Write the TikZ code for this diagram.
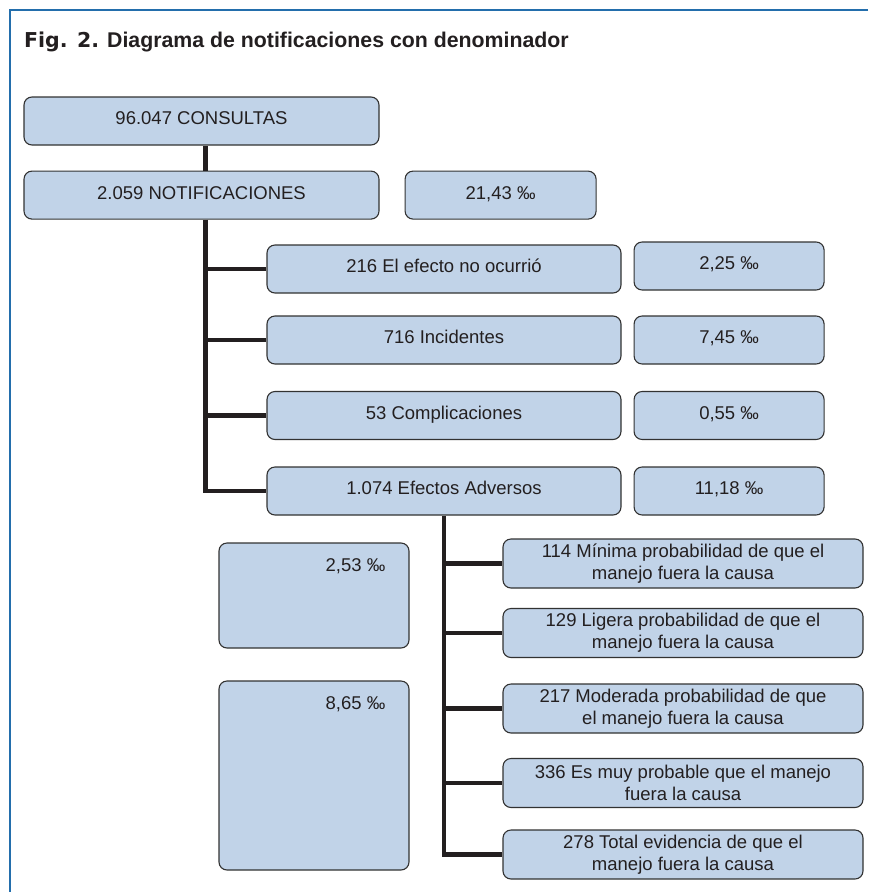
\documentclass[tikz,border=0pt]{standalone}
\usepackage{fontspec}
\setmainfont{Liberation Sans}
\newfontfamily\figfont{DejaVu Sans}[BoldFont={DejaVu Sans Bold}]
\usetikzlibrary{positioning}

\definecolor{frameblue}{RGB}{35,110,172}
\definecolor{boxfill}{RGB}{193,211,232}
\definecolor{boxline}{RGB}{50,50,50}
\definecolor{ink}{RGB}{35,31,32}

\newcommand{\boxfont}{\fontsize{18.5}{22}\selectfont}

\begin{document}
\begin{tikzpicture}[x=1pt, y=-1pt, node distance=12pt,
    box/.style={draw=boxline, fill=boxfill, line width=1.1pt, rounded corners=8pt,
        text=ink, font=\boxfont, inner sep=0pt, minimum height=48pt},
    single/.style={box, text height=13pt, text depth=5.2pt},
    wide/.style={single, minimum width=354pt},
    rate/.style={single, minimum width=190pt},
    cause/.style={box, minimum width=360pt, minimum height=49pt, align=center},
    ratelabel/.style={anchor=base east, inner sep=0pt, xshift=-24pt, yshift=-29pt,
        font=\boxfont, text=ink},
    link/.style={draw=ink, line width=4.6pt}]

    \useasboundingbox (0,0) rectangle (868,892);

    % Frame and title
    \draw[frameblue, line width=2pt] (868,9.5) -- (9.5,9.5) -- (9.5,892);
    \node[anchor=base west, inner sep=0pt, text=ink,
        font=\bfseries\fontsize{21.3}{25}\selectfont] (title) at (24,47)
        {{\figfont\bfseries\fontsize{20.5}{25}\selectfont Fig. 2.} Diagrama de notificaciones con denominador};

    % Main column
    \node[wide, minimum width=355pt] (cons) at (201.5,121) {96.047 CONSULTAS};
    \node[wide, minimum width=355pt, below=25pt of cons] (notif) {2.059 NOTIFICACIONES};
    \node[rate, minimum width=191pt, right=25pt of notif] (rnotif) {21,43 ‰};

    % Types of notification
    \node[wide] (efecto) at (444,269) {216 El efecto no ocurrió};
    \node[wide] (incid)  at (444,340) {716 Incidentes};
    \node[wide] (compl)  at (444,415.5) {53 Complicaciones};
    \node[wide] (adv)    at (444,491) {1.074 Efectos Adversos};
    \node[rate, right=of efecto, yshift=3pt] (refecto) {2,25 ‰};
    \node[rate, right=of incid] (rincid) {7,45 ‰};
    \node[rate, right=of compl] (rcompl) {0,55 ‰};
    \node[rate, right=of adv] (radv) {11,18 ‰};

    % Causes of the adverse effects
    \node[cause] (c1) at (683,563.5) {114 Mínima probabilidad de que el\\manejo fuera la causa};
    \node[cause] (c2) at (683,633)   {129 Ligera probabilidad de que el\\manejo fuera la causa};
    \node[cause] (c3) at (683,708.5) {217 Moderada probabilidad de que\\el manejo fuera la causa};
    \node[cause] (c4) at (683,783)   {336 Es muy probable que el manejo\\fuera la causa};
    \node[cause] (c5) at (683,854.5) {278 Total evidencia de que el\\manejo fuera la causa};

    % Grouped rates
    \node[box, minimum width=190pt, minimum height=105pt,
        label={[ratelabel]north east:2,53 ‰}] (rlow) at (314,595.5) {};
    \node[box, minimum width=190pt, minimum height=189pt,
        label={[ratelabel]north east:8,65 ‰}] (rhigh) at (314,775.5) {};

    % Connectors
    \coordinate (t1) at ([xshift=4pt]notif.south);
    \draw[link] ([xshift=4pt]cons.south) -- ([xshift=4pt]notif.north);
    \draw[link] (t1) |- (adv.west);
    \foreach \n in {efecto, incid, compl}
        \draw[link] (t1 |- \n.west) -- (\n.west);
    \draw[link] (adv.south) |- (c5.west);
    \foreach \n in {c1, c2, c3, c4}
        \draw[link] (adv.south |- \n.west) -- (\n.west);

\end{tikzpicture}
\end{document}
